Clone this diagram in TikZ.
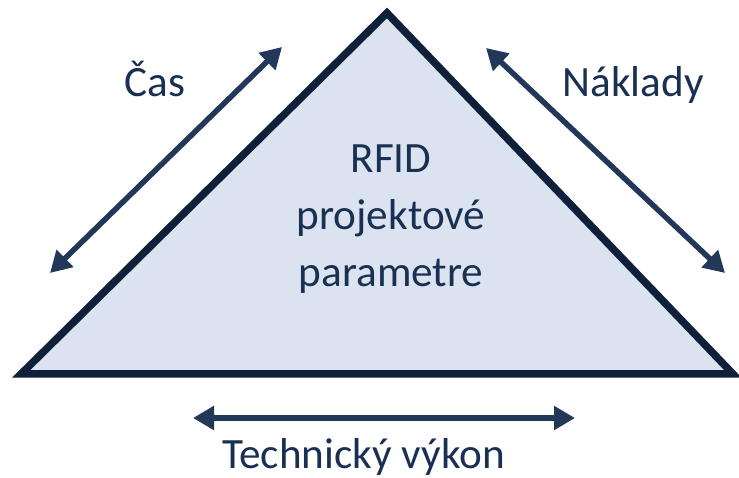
\documentclass[tikz,border=0pt]{standalone}
\usepackage{fontspec}
\setmainfont{Carlito}
\usetikzlibrary{arrows.meta}
\definecolor{trifill}{RGB}{218,227,239}
\definecolor{triedge}{RGB}{14,32,58}
\definecolor{arrowblue}{RGB}{34,56,88}
\definecolor{labelblue}{RGB}{26,48,82}

\begin{document}
\begin{tikzpicture}[line join=miter,
    dimarrow/.style={line width=0.11cm,draw=arrowblue,
      {Triangle[length=0.42cm,width=0.46cm]}-{Triangle[length=0.42cm,width=0.46cm]}},
    lbl/.style={anchor=base,text=labelblue,inner sep=0pt,
      font=\fontsize{24.6}{29}\selectfont}]
  \useasboundingbox (0,0) rectangle (14.78,9.56);
  \coordinate (L) at (0.42,2.08);
  \coordinate (T) at (7.74,9.30);
  \coordinate (R) at (14.66,2.08);
  \filldraw[fill=trifill,draw=triedge,line width=0.15cm] (L) -- (T) -- (R) -- cycle;
  % side arrows
  \coordinate (cas1) at (1.00,4.10);
  \coordinate (cas2) at (5.64,8.62);
  \coordinate (nak1) at (9.72,8.60);
  \coordinate (nak2) at (14.50,4.10);
  \coordinate (tv1) at (3.86,1.20);
  \coordinate (tv2) at (11.50,1.20);
  \draw[dimarrow] (cas1) -- (cas2);
  \draw[dimarrow] (nak1) -- (nak2);
  \draw[dimarrow] (tv1) -- (tv2);
  % labels
  \node[lbl] (cas) at (3.10,7.62) {Čas};
  \node[lbl] (naklady) at (12.66,7.62) {Náklady};
  \node[lbl] (vykon) at (7.27,0.18) {Technický výkon};
  \node[lbl] (rfid) at (7.82,6.10) {RFID};
  \node[lbl] (projekt) at (7.82,4.96) {projektové};
  \node[lbl] (param) at (7.82,3.82) {parametre};
\end{tikzpicture}
\end{document}
